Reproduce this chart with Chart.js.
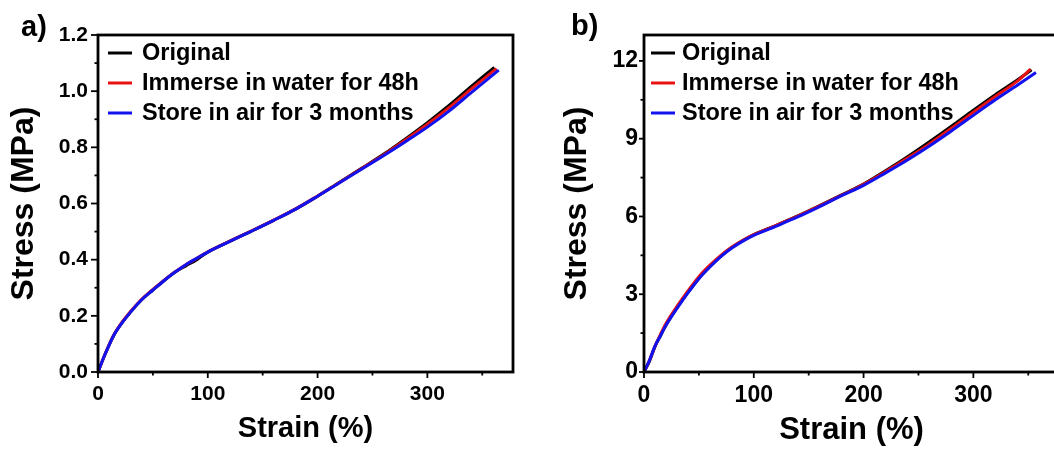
<!DOCTYPE html>
<html>
<head>
<meta charset="utf-8">
<script src="https://cdn.jsdelivr.net/npm/chart.js@4.4.1/dist/chart.umd.min.js"></script>
<style>
  html, body { margin: 0; padding: 0; background: #fff; }
  body { position: relative; width: 1054px; height: 452px; overflow: hidden; }
  canvas { position: absolute; top: 0; }
  #chartA { left: 0; }
  #chartB { left: 527px; }
  .tag { position: absolute; font: bold 29px "Liberation Sans", Arial, sans-serif; color: #000; line-height: 1; }
</style>
</head>
<body>
<canvas id="chartA" width="530" height="452"></canvas>
<canvas id="chartB" width="560" height="452"></canvas>
<div class="tag" style="left:21px; top:12px;">a)</div>
<div class="tag" style="left:571px; top:11px;">b)</div>
<script>
const seriesLabels = ["Original", "Immerse in water for 48h", "Store in air for 3 months"];
const seriesColors = ["#000000", "#e81212", "#1212ee"];

// panel a
const strainA = [0, 5, 10, 15, 20, 30, 40, 50, 60, 70, 80, 90, 100, 120, 140, 160, 180, 200, 220, 240, 260, 280, 300, 320, 340];
const stressAOriginal = [0, 0.05, 0.095, 0.135, 0.165, 0.215, 0.258, 0.292, 0.325, 0.355, 0.378, 0.4, 0.427, 0.465, 0.502, 0.54, 0.58, 0.626, 0.676, 0.725, 0.775, 0.83, 0.888, 0.95, 1.017];
const stressAWater = [0, 0.05, 0.096, 0.136, 0.167, 0.217, 0.26, 0.294, 0.326, 0.356, 0.382, 0.405, 0.428, 0.466, 0.503, 0.541, 0.581, 0.627, 0.675, 0.724, 0.773, 0.826, 0.882, 0.942, 1.008];
const stressAAir = [0, 0.05, 0.095, 0.135, 0.165, 0.215, 0.258, 0.292, 0.325, 0.355, 0.382, 0.405, 0.427, 0.465, 0.502, 0.54, 0.58, 0.626, 0.674, 0.722, 0.77, 0.82, 0.872, 0.93, 0.995];
const endA = [[361, 1.085], [363, 1.08], [365, 1.075]];

// panel b
const strainB = [0, 5, 10, 15, 20, 30, 40, 50, 60, 70, 80, 90, 100, 120, 140, 160, 180, 200, 220, 240, 260, 280, 300, 320, 340];
const stressBOriginal = [0, 0.42, 0.98, 1.4, 1.8, 2.47, 3.07, 3.62, 4.07, 4.47, 4.8, 5.07, 5.3, 5.65, 6.02, 6.42, 6.83, 7.25, 7.76, 8.3, 8.88, 9.48, 10.1, 10.7, 11.26];
const stressBWater = [0, 0.45, 1.0, 1.45, 1.87, 2.53, 3.13, 3.68, 4.12, 4.5, 4.82, 5.08, 5.3, 5.65, 6.01, 6.41, 6.82, 7.24, 7.73, 8.25, 8.8, 9.4, 10.02, 10.63, 11.22];
const stressBAir = [0, 0.45, 1.0, 1.4, 1.8, 2.45, 3.05, 3.6, 4.05, 4.45, 4.78, 5.05, 5.27, 5.62, 5.98, 6.38, 6.8, 7.2, 7.68, 8.18, 8.72, 9.3, 9.9, 10.5, 11.06];
const endB = [[353, 11.66], [352, 11.68], [357, 11.55]];

const FONT = "'Liberation Sans', Arial, sans-serif";

function toPoints(xs, ys, end) {
  return xs.map((x, i) => ({ x, y: ys[i] })).concat([{ x: end[0], y: end[1] }]);
}

function makeDatasets(xs, yLists, ends) {
  return yLists.map((ys, i) => ({
    label: seriesLabels[i],
    data: toPoints(xs, ys, ends[i]),
    borderColor: seriesColors[i],
    borderWidth: 3,
    pointRadius: 0,
    showLine: true,
    cubicInterpolationMode: "monotone",
    order: 3 - i
  }));
}

// frame, ticks (major + minor) and in-plot legend
const framePlugin = {
  id: "frame",
  afterDraw(chart, args, opts) {
    const { ctx, chartArea: a } = chart;
    ctx.save();
    ctx.strokeStyle = "#000";
    ctx.lineWidth = 1.8;
    ["x", "y"].forEach((id) => {
      const scale = chart.scales[id];
      const major = id === "x" ? 6 : opts.yTick;
      scale.ticks.forEach((t) => {
        const p = scale.getPixelForValue(t.value);
        const len = t.label === "" ? 3.5 : major;
        ctx.beginPath();
        if (id === "x") { ctx.moveTo(p, a.bottom); ctx.lineTo(p, a.bottom + len); }
        else { ctx.moveTo(a.left, p); ctx.lineTo(a.left - len, p); }
        ctx.stroke();
      });
    });
    ctx.lineWidth = 2.8;
    ctx.strokeRect(a.left, a.top, a.right - a.left, a.bottom - a.top);

    ctx.font = "bold 23.5px " + FONT;
    ctx.textBaseline = "middle";
    ctx.fillStyle = "#000";
    chart.data.datasets.forEach((ds, i) => {
      const y = a.top + opts.rowTop + i * opts.rowGap;
      ctx.beginPath();
      ctx.strokeStyle = ds.borderColor;
      ctx.lineWidth = 3;
      ctx.moveTo(a.left + opts.lineX0, y);
      ctx.lineTo(a.left + opts.lineX1, y);
      ctx.stroke();
      ctx.fillText(ds.label, a.left + opts.textX, y + 1);
    });
    ctx.restore();
  }
};

function makeChart(id, cfg) {
  const canvas = document.getElementById(id);
  return new Chart(canvas.getContext("2d"), {
    type: "scatter",
    data: { datasets: cfg.datasets },
    options: {
      responsive: false,
      animation: false,
      layout: { padding: { top: 35, right: cfg.padRight, left: 0, bottom: 0 } },
      plugins: {
        legend: { display: false },
        tooltip: { enabled: false },
        frame: cfg.legend
      },
      scales: {
        x: {
          type: "linear",
          min: 0,
          max: 378,
          afterFit: (s) => { s.height = 80; },
          border: { display: false },
          grid: { drawOnChartArea: false, drawTicks: true, tickLength: 6, tickColor: "rgba(0,0,0,0)" },
          ticks: {
            stepSize: 50,
            includeBounds: false,
            autoSkip: false,
            maxRotation: 0,
            padding: 4,
            color: "#000",
            font: { family: FONT, size: cfg.tickSize, weight: "bold" },
            callback: (v) => (v % 100 === 0 ? String(v) : "")
          },
          title: {
            display: true,
            text: "Strain (%)",
            color: "#000",
            font: { family: FONT, size: cfg.xTitleSize, weight: "bold" },
            padding: { top: 0, bottom: cfg.xTitlePad }
          }
        },
        y: {
          type: "linear",
          min: 0,
          max: cfg.yMax,
          afterFit: (s) => { s.width = cfg.yWidth; },
          border: { display: false },
          grid: { drawOnChartArea: false, drawTicks: true, tickLength: cfg.legend.yTick, tickColor: "rgba(0,0,0,0)" },
          ticks: {
            stepSize: cfg.yStep,
            includeBounds: false,
            autoSkip: false,
            padding: cfg.yTickPad,
            color: "#000",
            font: { family: FONT, size: cfg.tickSize, weight: "bold" },
            callback: cfg.yLabel
          },
          title: {
            display: true,
            text: "Stress (MPa)",
            color: "#000",
            font: { family: FONT, size: 32, weight: "bold" },
            padding: { top: cfg.yTitlePad, bottom: 0 }
          }
        }
      }
    },
    plugins: [framePlugin]
  });
}

if (window.Chart) {
  makeChart("chartA", {
    datasets: makeDatasets(strainA, [stressAOriginal, stressAWater, stressAAir], endA),
    padRight: 17,
    yWidth: 98,
    yMax: 1.2,
    yStep: 0.1,
    yTickPad: 3,
    tickSize: 21,
    xTitleSize: 29,
    xTitlePad: 6,
    yTitlePad: 5,
    yLabel: (v) => {
      const k = Math.round(v * 10);
      return k % 2 === 0 ? (k / 10).toFixed(1) : "";
    },
    legend: { rowTop: 18, rowGap: 30, lineX0: 10, lineX1: 34, textX: 44, yTick: 7 }
  });

  makeChart("chartB", {
    datasets: makeDatasets(strainB, [stressBOriginal, stressBWater, stressBAir], endB),
    padRight: 28,
    yWidth: 117,
    yMax: 13,
    yStep: 1.5,
    yTickPad: 1,
    tickSize: 23,
    xTitleSize: 31,
    xTitlePad: 3,
    yTitlePad: 31,
    yLabel: (v) => (Math.round(v * 10) % 30 === 0 ? String(Math.round(v)) : ""),
    legend: { rowTop: 18, rowGap: 30, lineX0: 7, lineX1: 31, textX: 38, yTick: 5 }
  });
}
</script>
</body>
</html>
